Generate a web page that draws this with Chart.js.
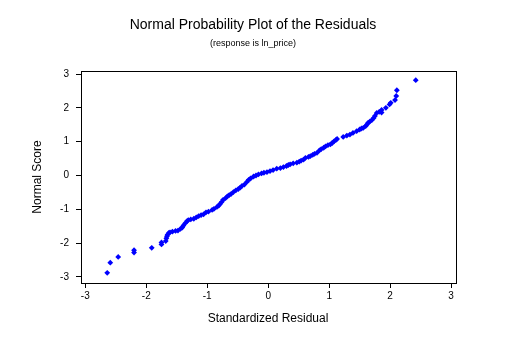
<!DOCTYPE html>
<html>
<head>
<meta charset="utf-8">
<script src="https://cdn.jsdelivr.net/npm/chart.js@4/dist/chart.umd.min.js"></script>
<style>
html,body{margin:0;padding:0;background:#fff;}
#wrap{width:508px;height:354px;}
</style>
</head>
<body>
<div id="wrap"><canvas id="c" width="508" height="354"></canvas></div>
<script>
// Standardized residuals (x) and normal scores (y)
const residuals = [
-2.64,-2.59,-2.46,-2.20,-2.20,-1.91,-1.75,-1.75,-1.68,-1.67,
-1.66,-1.65,-1.63,-1.61,-1.57,-1.52,-1.48,-1.44,-1.41,-1.39,
-1.36,-1.33,-1.31,-1.27,-1.22,-1.18,-1.14,-1.10,-1.06,-1.02,
-0.98,-0.92,-0.89,-0.84,-0.81,-0.79,-0.76,-0.74,-0.70,-0.67,
-0.64,-0.61,-0.57,-0.53,-0.49,-0.46,-0.43,-0.39,-0.35,-0.32,
-0.29,-0.24,-0.20,-0.16,-0.11,-0.07,-0.02,0.03,0.08,0.14,
0.20,0.25,0.30,0.33,0.36,0.41,0.47,0.51,0.54,0.58,
0.61,0.66,0.69,0.73,0.76,0.80,0.84,0.87,0.91,0.94,
0.98,1.02,1.05,1.08,1.11,1.13,1.23,1.29,1.34,1.39,
1.45,1.50,1.53,1.56,1.60,1.62,1.64,1.67,1.70,1.73,
1.75,1.78,1.82,1.86,1.86,1.93,1.99,2.01,2.08,2.10,
2.11,2.42
];
const normalScores = [
-2.88,-2.58,-2.41,-2.21,-2.28,-2.14,-2.04,-1.98,-1.94,-1.86,
-1.80,-1.75,-1.70,-1.68,-1.66,-1.64,-1.63,-1.58,-1.54,-1.48,
-1.41,-1.35,-1.32,-1.30,-1.28,-1.24,-1.20,-1.17,-1.15,-1.09,
-1.07,-1.02,-0.99,-0.93,-0.89,-0.84,-0.78,-0.72,-0.67,-0.62,
-0.58,-0.55,-0.49,-0.44,-0.40,-0.36,-0.31,-0.27,-0.19,-0.13,
-0.09,-0.03,0.00,0.03,0.06,0.08,0.10,0.13,0.16,0.20,
0.22,0.25,0.28,0.31,0.33,0.36,0.38,0.41,0.44,0.47,
0.52,0.55,0.57,0.61,0.64,0.67,0.74,0.78,0.82,0.86,
0.90,0.92,0.96,1.01,1.05,1.08,1.14,1.18,1.21,1.26,
1.31,1.36,1.39,1.41,1.46,1.51,1.56,1.60,1.64,1.70,
1.76,1.85,1.88,1.94,1.86,2.00,2.10,2.15,2.23,2.35,
2.52,2.82
];
const xTicks = [-3,-2,-1,0,1,2,3];
const yTicks = [-3,-2,-1,0,1,2,3];
const titleText = "Normal Probability Plot of the Residuals";
const subtitleText = "(response is ln_price)";
const xTitle = "Standardized Residual";
const yTitle = "Normal Score";

const points = residuals.map((x,i)=>({x:x, y:normalScores[i]}));
const FONT = "'Liberation Sans', Arial, sans-serif";

const framePlugin = {
  id:'frame',
  afterDraw(chart){
    const {ctx, chartArea:a} = chart;
    ctx.save();
    ctx.strokeStyle = '#000';
    ctx.lineWidth = 1;
    ctx.strokeRect(Math.round(a.left)+0.5, Math.round(a.top)+0.5, Math.round(a.right-a.left), Math.round(a.bottom-a.top));
    ctx.fillStyle = '#000';
    ctx.textAlign = 'center';
    ctx.textBaseline = 'middle';
    ctx.font = "14px " + FONT;
    ctx.fillText(titleText, 253, 25);
    ctx.font = "9px " + FONT;
    ctx.fillText(subtitleText, 253, 44);
    ctx.font = "12px " + FONT;
    ctx.fillText(xTitle, 268, 319);
    ctx.translate(38, 177);
    ctx.rotate(-Math.PI/2);
    ctx.fillText(yTitle, 0, 0);
    ctx.restore();
  }
};

new Chart(document.getElementById('c'), {
  type:'scatter',
  data:{datasets:[{
    data:points,
    pointStyle:'rectRot',
    radius:2.9,
    backgroundColor:'#0000ff',
    borderColor:'#0000ff',
    borderWidth:0
  }]},
  options:{
    responsive:false,
    animation:false,
    devicePixelRatio:1,
    layout:{padding:{left:41,right:52,top:71,bottom:21}},
    plugins:{legend:{display:false},tooltip:{enabled:false},title:{display:false}},
    scales:{
      x:{
        type:'linear', min:-3.07, max:3.08,
        afterBuildTicks(s){ s.ticks = xTicks.map(v=>({value:v})); },
        afterFit(s){ s.height = 50; },
        grid:{display:true, drawOnChartArea:false, drawTicks:true, tickLength:5, color:'#000'},
        border:{display:true, color:'#000'},
        ticks:{color:'#000', font:{family:FONT, size:10}, padding:2, maxRotation:0}
      },
      y:{
        type:'linear', min:-3.18, max:3.09,
        afterBuildTicks(s){ s.ticks = yTicks.map(v=>({value:v})); },
        afterFit(s){ s.width = 40; },
        grid:{display:true, drawOnChartArea:false, drawTicks:true, tickLength:5, color:'#000'},
        border:{display:true, color:'#000'},
        ticks:{color:'#000', font:{family:FONT, size:10}, padding:7}
      }
    }
  },
  plugins:[framePlugin]
});
</script>
</body>
</html>
